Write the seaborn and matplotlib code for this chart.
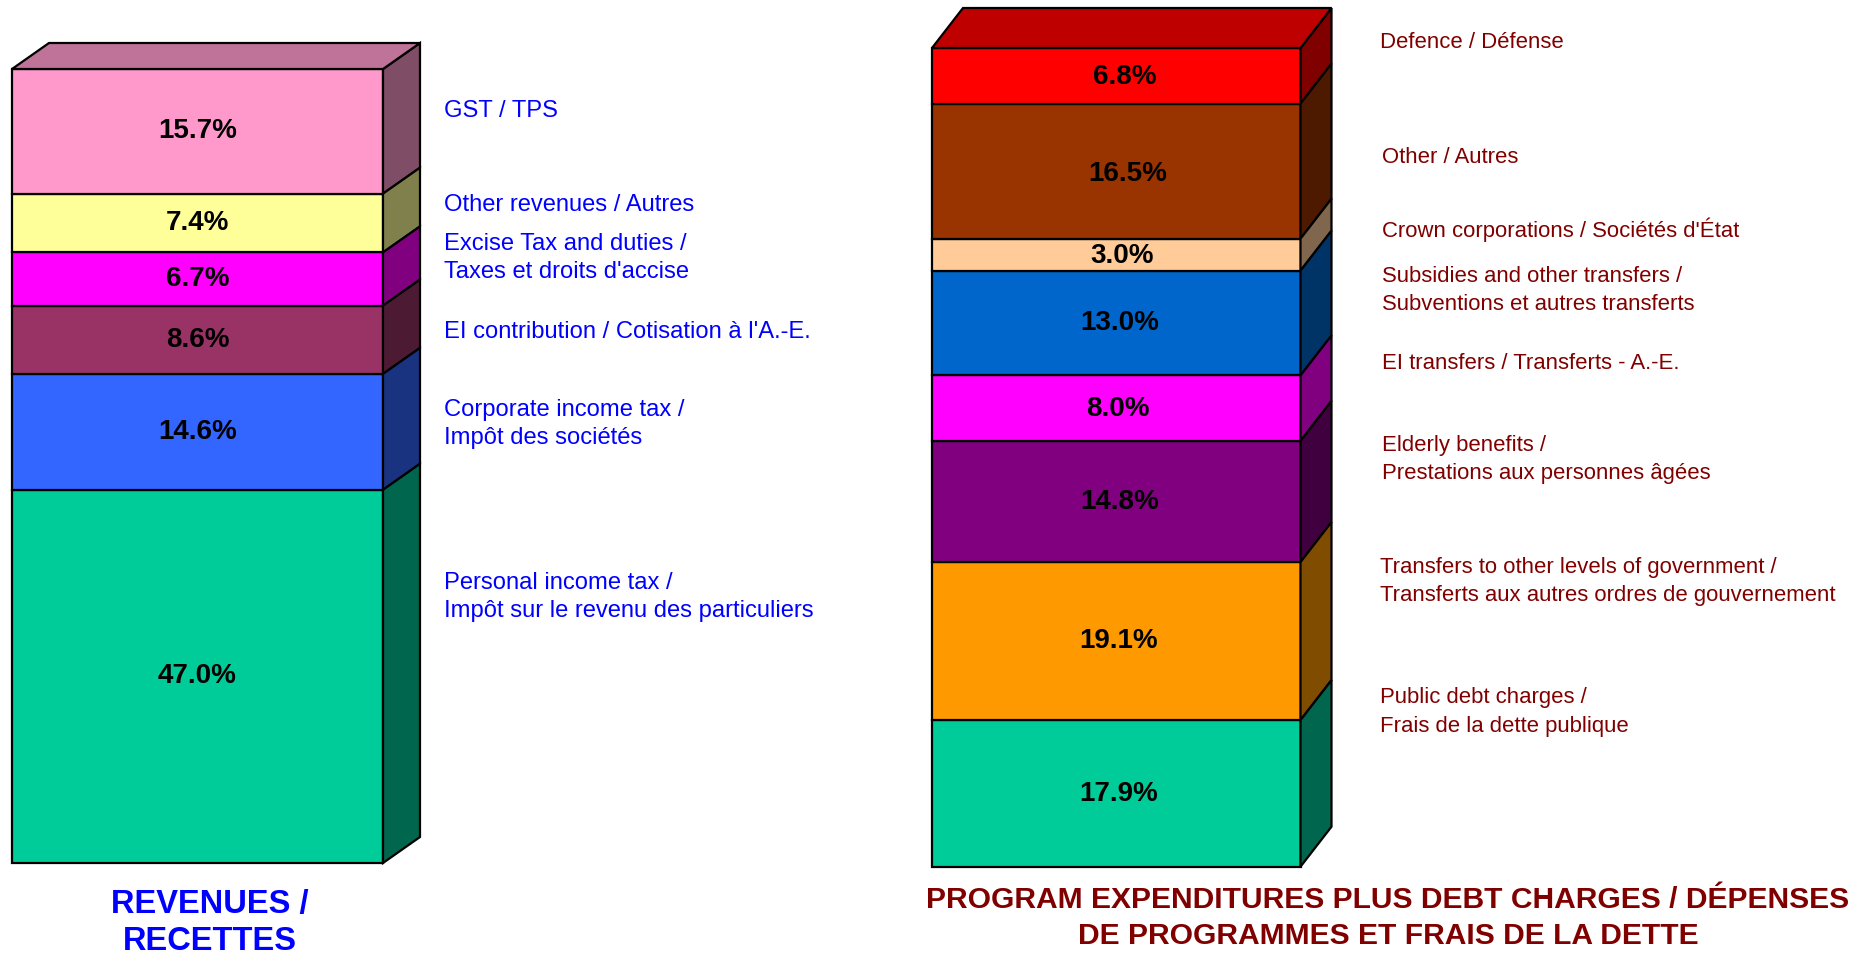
import matplotlib
matplotlib.use('Agg')
import matplotlib.pyplot as plt
import numpy as np
import pandas as pd
import seaborn as sns

W, H = 1862, 957
SHRINK = 1862 / 1568

# top of the stack first
rev_items = ['GST', 'Other', 'Excise', 'EI', 'Corporate', 'Personal']
rev_values = [15.7, 7.4, 6.7, 8.6, 14.6, 47.0]
rev_colors = ['#FF99CC', '#FFFF99', '#FF00FF', '#993366', '#3366FF', '#00CC99']
rev_labels = ['GST / TPS', 'Other revenues / Autres',
              "Excise Tax and duties /\nTaxes et droits d'accise",
              "EI contribution / Cotisation à l'A.-E.",
              'Corporate income tax /\nImpôt des sociétés',
              'Personal income tax /\nImpôt sur le revenu des particuliers']
rev_label_y = [92, 171, 215.5, 278, 355.5, 501]

exp_items = ['Defence', 'Other', 'Crown', 'Subsidies', 'EI', 'Elderly', 'Transfers', 'Debt']
# block heights as drawn, they do not all agree with the printed shares
exp_values = [6.8, 16.5, 3.9, 12.8, 8.0, 14.8, 19.3, 17.9]
exp_printed = ['6.8%', '16.5%', '3.0%', '13.0%', '8.0%', '14.8%', '19.1%', '17.9%']
exp_colors = ['#FF0000', '#993300', '#FFCC99', '#0066CC', '#FF00FF', '#800080', '#FF9900', '#00CC99']
exp_labels = ['Defence / Défense', 'Other / Autres', "Crown corporations / Sociétés d'État",
              'Subsidies and other transfers /\nSubventions et autres transferts',
              'EI transfers / Transferts - A.-E.',
              'Elderly benefits /\nPrestations aux personnes âgées',
              'Transfers to other levels of government /\nTransferts aux autres ordres de gouvernement',
              'Public debt charges /\nFrais de la dette publique']
exp_label_x = [1162, 1164, 1164, 1164, 1164, 1164, 1162, 1162]
exp_label_y = [34, 131, 192, 243, 305, 385.5, 488, 598]
exp_pct_dx = [9, 11, 6, 3, 2, 3, 2, 2]
exp_pct_dy = [-1, -3, -1, 0, -1, 0, 0, -1]

sns.set_theme(style='white')
plt.rcParams['font.family'] = ['Liberation Sans', 'DejaVu Sans']

fig = plt.figure(figsize=(W / 100, H / 100), dpi=100, facecolor='white')


def make_axes(x0, x1, y0, y1):
    return fig.add_axes([x0 / W, 1 - y1 / H, (x1 - x0) / W, (y1 - y0) / H])


def stack_3d(ax, items, values, colors, dx, dy):
    df = pd.DataFrame({'stack': 0, 'item': items, 'value': values})
    sns.histplot(data=df, x='stack', hue='item', weights='value', multiple='stack',
                 discrete=True, shrink=1, hue_order=items, palette=dict(zip(items, colors)),
                 alpha=1, edgecolor='black', linewidth=1.6, legend=False, ax=ax)
    total = sum(values)
    ax.set_xlim(-0.5, 0.5)
    ax.set_ylim(0, total)
    ax.set_axis_off()
    for p in ax.patches:
        p.set_clip_on(False)
    tops = total - np.cumsum([0] + list(values))
    for i, c in enumerate(colors):
        t, b = tops[i], tops[i + 1]
        rgb = np.array(matplotlib.colors.to_rgb(c))
        ax.fill([0.5, 0.5 + dx, 0.5 + dx, 0.5], [b, b + dy, t + dy, t], color=rgb * 0.5,
                ec='black', lw=1.6, clip_on=False, zorder=1)
    rgb = np.array(matplotlib.colors.to_rgb(colors[0]))
    ax.fill([-0.5, -0.5 + dx, 0.5 + dx, 0.5], [total, total + dy, total + dy, total],
            color=rgb * 0.75, ec='black', lw=1.6, clip_on=False, zorder=1)
    return tops


PCT_SIZE = 20
PX = 0.72  # points per pixel at dpi 100

# left stack
ax1 = make_axes(12, 383, 69, 863)
tops = stack_3d(ax1, rev_items, rev_values, rev_colors, 37 / 371, 26 / 794 * 100)
for i, v in enumerate(rev_values):
    ax1.annotate(f'{v:.1f}%', (0, tops[i] - v / 2), xytext=(0, 0), textcoords='offset points',
                 ha='center', va='center', fontsize=PCT_SIZE, fontweight='bold', color='black')
for lab, y in zip(rev_labels, rev_label_y):
    fig.text(374 * SHRINK / W, 1 - (y + 1.5) * SHRINK / H, lab, ha='left', va='center',
             fontsize=17.1, color='#0000FF', linespacing=1.37)

# right stack
ax2 = make_axes(932, 1300.5, 48, 866.7)
tops = stack_3d(ax2, exp_items, exp_values, exp_colors, 31 / 368.5, 40 / 818.7 * sum(exp_values))
for i, v in enumerate(exp_values):
    ax2.annotate(exp_printed[i], (0, tops[i] - v / 2),
                 xytext=(exp_pct_dx[i] * PX, exp_pct_dy[i] * PX), textcoords='offset points',
                 ha='center', va='center', fontsize=PCT_SIZE, fontweight='bold', color='black')
for lab, x, y in zip(exp_labels, exp_label_x, exp_label_y):
    fig.text(x * SHRINK / W, 1 - (y + 1.5) * SHRINK / H, lab, ha='left', va='center',
             fontsize=15.9, color='#800000', linespacing=1.47)

fig.text(210 / W, 1 - 923 / H, 'REVENUES /\nRECETTES', ha='center', va='center',
         fontsize=23.5, fontweight='bold', color='#0000FF', linespacing=1.25)
fig.text(1388 / W, 1 - 918 / H,
         'PROGRAM EXPENDITURES PLUS DEBT CHARGES / DÉPENSES\nDE PROGRAMMES ET FRAIS DE LA DETTE',
         ha='center', va='center', fontsize=21.6, fontweight='bold', color='#800000',
         linespacing=1.33)

fig.savefig('out.png', dpi=100)
